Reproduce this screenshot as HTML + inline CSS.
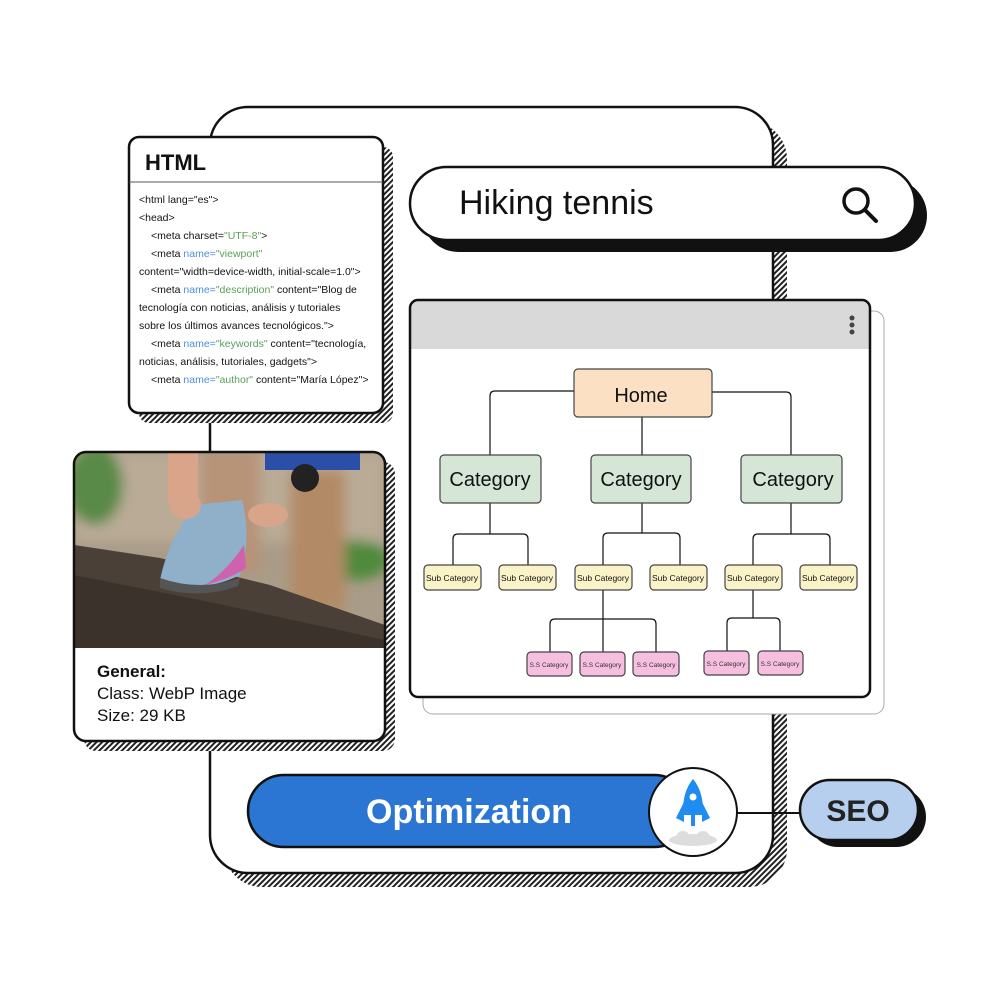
<!DOCTYPE html>
<html><head><meta charset="utf-8"><style>
html,body{margin:0;padding:0;background:#fff;}
svg{display:block;}
text{font-family:"Liberation Sans",sans-serif;}
</style></head><body>
<svg width="1000" height="1000" viewBox="0 0 1000 1000" xmlns="http://www.w3.org/2000/svg">
<defs>
<pattern id="h" patternUnits="userSpaceOnUse" width="4" height="4" patternTransform="rotate(45)">
<rect width="4" height="4" fill="#fff"/><rect width="2" height="4" fill="#222"/>
</pattern>
<clipPath id="pc"><path d="M88,452 H371 Q385,452 385,466 V648 H74 V466 Q74,452 88,452 Z"/></clipPath>
<filter id="bl"><feGaussianBlur stdDeviation="6"/></filter>
</defs>

<rect x="224" y="121" width="563" height="766" rx="38" fill="url(#h)"/>
<rect x="210" y="107" width="563" height="766" rx="38" fill="#fff" stroke="#111" stroke-width="2.5"/>

<rect x="139" y="147" width="254" height="276" rx="10" fill="url(#h)"/>
<rect x="129" y="137" width="254" height="276" rx="10" fill="#fff" stroke="#111" stroke-width="2.5"/>
<line x1="129" y1="182" x2="383" y2="182" stroke="#555" stroke-width="1"/>
<text x="145" y="170" font-size="22" font-weight="bold" fill="#111">HTML</text>
<g font-size="10.5" fill="#111">
<text x="139" y="203">&lt;html lang="es"&gt;</text>
<text x="139" y="221">&lt;head&gt;</text>
<text x="151" y="239">&lt;meta charset=<tspan fill="#5aa05a">"UTF-8"</tspan>&gt;</text>
<text x="151" y="257">&lt;meta <tspan fill="#4a8fd8">name=</tspan><tspan fill="#5aa05a">"viewport"</tspan></text>
<text x="139" y="275">content="width=device-width, initial-scale=1.0"&gt;</text>
<text x="151" y="293">&lt;meta <tspan fill="#4a8fd8">name=</tspan><tspan fill="#5aa05a">"description"</tspan> content="Blog de</text>
<text x="139" y="311">tecnología con noticias, análisis y tutoriales</text>
<text x="139" y="329">sobre los últimos avances tecnológicos."&gt;</text>
<text x="151" y="347">&lt;meta <tspan fill="#4a8fd8">name=</tspan><tspan fill="#5aa05a">"keywords"</tspan> content="tecnología,</text>
<text x="139" y="365">noticias, análisis, tutoriales, gadgets"&gt;</text>
<text x="151" y="383">&lt;meta <tspan fill="#4a8fd8">name=</tspan><tspan fill="#5aa05a">"author"</tspan> content="María López"&gt;</text>
</g>

<rect x="84" y="462" width="311" height="289" rx="12" fill="url(#h)"/>
<rect x="74" y="452" width="311" height="289" rx="12" fill="#fff"/>
<g clip-path="url(#pc)">
<rect x="74" y="452" width="311" height="196" fill="#a99c88"/>
<g filter="url(#bl)">
<rect x="74" y="452" width="311" height="90" fill="#b9ab96"/>
<ellipse cx="95" cy="485" rx="28" ry="40" fill="#5a8a46"/>
<ellipse cx="355" cy="560" rx="35" ry="20" fill="#4f8a3c"/>
<rect x="290" y="470" width="55" height="140" fill="#b38a66"/>
<rect x="200" y="452" width="60" height="120" fill="#b79378"/>
</g>
<rect x="265" y="452" width="95" height="18" fill="#2b4fa8"/>
<circle cx="305" cy="478" r="14" fill="#222"/>
<path d="M74,545 L160,558 L270,585 L385,625 L385,648 L74,648 Z" fill="#4a4038"/>
<path d="M74,575 L200,600 L385,640 L385,648 L74,648 Z" fill="#3a322b"/>
<path d="M160,580 Q168,540 195,505 L242,500 Q252,540 240,575 Q200,595 160,580 Z" fill="#90b0ca"/>
<path d="M205,585 Q232,578 246,568 L244,545 Q226,572 205,585 Z" fill="#cf62b0"/>
<path d="M160,578 Q200,592 240,578 L238,586 Q200,600 160,588 Z" fill="#555"/>
<ellipse cx="268" cy="515" rx="20" ry="12" fill="#d9a58a"/>
<ellipse cx="185" cy="505" rx="16" ry="14" fill="#d9a58a"/>
<rect x="168" y="452" width="30" height="50" fill="#d9a58a"/>
</g>
<rect x="74" y="452" width="311" height="289" rx="12" fill="none" stroke="#111" stroke-width="2.5"/>
<text x="97" y="677" font-size="17" font-weight="bold" fill="#111">General:</text>
<text x="97" y="699" font-size="17" fill="#111">Class: WebP Image</text>
<text x="97" y="721" font-size="17" fill="#111">Size: 29 KB</text>

<rect x="422" y="179" width="505" height="73" rx="36.5" fill="#111"/>
<rect x="410" y="167" width="505" height="73" rx="36.5" fill="#fff" stroke="#111" stroke-width="2.5"/>
<text x="459" y="214" font-size="34" fill="#111">Hiking tennis</text>
<circle cx="856" cy="201" r="12" fill="none" stroke="#111" stroke-width="3.5"/>
<line x1="865" y1="210" x2="876" y2="221" stroke="#111" stroke-width="4" stroke-linecap="round"/>

<rect x="423" y="311" width="461" height="403" rx="10" fill="#fff" stroke="#aaa" stroke-width="1"/>
<rect x="410" y="300" width="460" height="397" rx="8" fill="#fff"/>
<path d="M418,300 H862 Q870,300 870,308 V349 H410 V308 Q410,300 418,300 Z" fill="#d9d9d9"/>
<rect x="410" y="300" width="460" height="397" rx="8" fill="none" stroke="#111" stroke-width="2.5"/>
<circle cx="852" cy="318" r="2.5" fill="#444"/><circle cx="852" cy="325" r="2.5" fill="#444"/><circle cx="852" cy="332" r="2.5" fill="#444"/>

<g fill="none" stroke="#111" stroke-width="1.2">
<path d="M574,391 H495 Q490,391 490,396 V455"/>
<path d="M712,392 H786 Q791,392 791,397 V455"/>
<path d="M642,417 V455"/>
<path d="M490,503 V534 M453,565 V539 Q453,534 458,534 H523 Q528,534 528,539 V565"/>
<path d="M642,503 V533 M603,565 V538 Q603,533 608,533 H675 Q680,533 680,538 V565"/>
<path d="M791,503 V534 M753,565 V539 Q753,534 758,534 H825 Q830,534 830,539 V565"/>
<path d="M603,590 V652 M550,652 V624 Q550,619 555,619 H651 Q656,619 656,624 V652"/>
<path d="M753,590 V618 M727,652 V623 Q727,618 732,618 H775 Q780,618 780,623 V652"/>
</g>
<g stroke="#444" stroke-width="1.2">
<rect x="574" y="369" width="138" height="48" rx="4" fill="#fbe0c4"/>
<rect x="440" y="455" width="101" height="48" rx="4" fill="#d5e6d6"/>
<rect x="591" y="455" width="100" height="48" rx="4" fill="#d5e6d6"/>
<rect x="741" y="455" width="101" height="48" rx="4" fill="#d5e6d6"/>
<g fill="#fbf3c8">
<rect x="424" y="565" width="57" height="25" rx="4"/><rect x="499" y="565" width="57" height="25" rx="4"/>
<rect x="575" y="565" width="57" height="25" rx="4"/><rect x="650" y="565" width="57" height="25" rx="4"/>
<rect x="725" y="565" width="57" height="25" rx="4"/><rect x="800" y="565" width="57" height="25" rx="4"/>
</g>
<g fill="#f6bfe0">
<rect x="527" y="652" width="45" height="24" rx="4"/><rect x="580" y="652" width="45" height="24" rx="4"/>
<rect x="633" y="652" width="46" height="24" rx="4"/><rect x="704" y="651" width="45" height="24" rx="4"/>
<rect x="758" y="651" width="45" height="24" rx="4"/>
</g>
</g>
<g text-anchor="middle" fill="#111">
<text x="641" y="402" font-size="20">Home</text>
<text x="490" y="486" font-size="20">Category</text>
<text x="641" y="486" font-size="20">Category</text>
<text x="793" y="486" font-size="20">Category</text>
<g font-size="8.5">
<text x="452" y="581">Sub Category</text><text x="527" y="581">Sub Category</text>
<text x="603" y="581">Sub Category</text><text x="678" y="581">Sub Category</text>
<text x="753" y="581">Sub Category</text><text x="828" y="581">Sub Category</text>
</g>
<g font-size="6.5" fill="#333">
<text x="549" y="667">S.S Category</text><text x="602" y="667">S.S Category</text>
<text x="656" y="667">S.S Category</text><text x="726" y="666">S.S Category</text>
<text x="780" y="666">S.S Category</text>
</g>
</g>

<line x1="737" y1="813" x2="805" y2="813" stroke="#111" stroke-width="2"/>
<rect x="248" y="775" width="442" height="72" rx="36" fill="#2a76d2" stroke="#111" stroke-width="2.5"/>
<text x="469" y="823" font-size="34" font-weight="bold" fill="#fff" text-anchor="middle">Optimization</text>
<circle cx="693" cy="812" r="44" fill="#fff" stroke="#111" stroke-width="2"/>
<ellipse cx="693" cy="840" rx="24" ry="6" fill="#ddd"/>
<circle cx="683" cy="838" r="7" fill="#ddd"/><circle cx="703" cy="838" r="7" fill="#ddd"/>
<path d="M693,779 Q704,792 703,815 L683,815 Q682,792 693,779 Z" fill="#1e8cf0"/>
<path d="M684,802 L676,818 L684,822 Z M702,802 L710,818 L702,822 Z" fill="#1e8cf0"/>
<circle cx="693" cy="797" r="3.5" fill="#fff"/>
<rect x="691" y="812" width="4" height="14" fill="#1e8cf0"/>

<rect x="808" y="787" width="118" height="60" rx="30" fill="#111"/>
<rect x="800" y="780" width="118" height="60" rx="30" fill="#b7cfee" stroke="#111" stroke-width="2.5"/>
<text x="858" y="821" font-size="30" font-weight="bold" fill="#222" text-anchor="middle">SEO</text>
</svg>
</body></html>
